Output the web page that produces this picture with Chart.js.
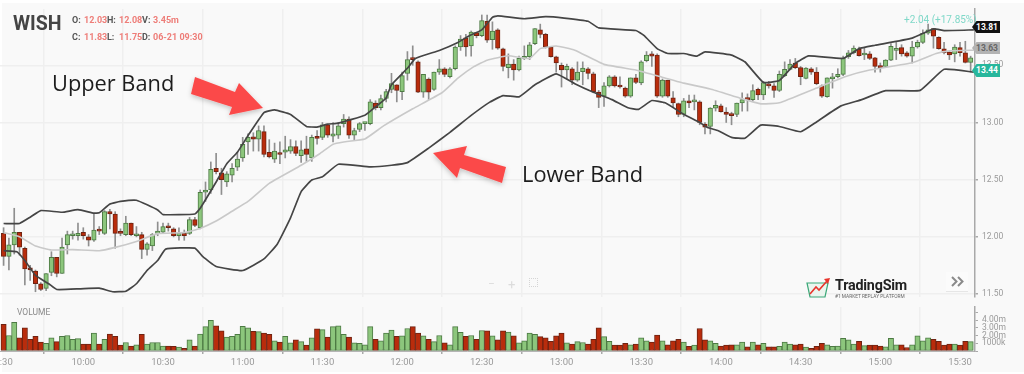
<!DOCTYPE html>
<html>
<head>
<meta charset="utf-8">
<script src="https://cdn.jsdelivr.net/npm/chart.js@4/dist/chart.umd.js"></script>
<style>
html,body{margin:0;padding:0;background:#fff;overflow:hidden}
#stage{position:relative;width:1024px;height:374px;overflow:hidden;background:#fff;font-family:Roboto,sans-serif}
#panel{position:absolute;left:2px;top:3px;width:1022px;height:369px;background:#f9f9f9}
.soft{position:absolute;left:0;top:0;width:1024px;height:374px;filter:blur(.6px)}
canvas{position:absolute}
.t{position:absolute;white-space:nowrap;line-height:1}
.k{color:#555;font:bold 9px Roboto,sans-serif}
.v{color:#ee7d78;font:bold 9px Roboto,sans-serif}
.tag{position:absolute;left:972px;width:28px;height:12px;font:bold 8.5px/12px Roboto,sans-serif;text-align:center;padding-left:2px;box-sizing:border-box;clip-path:polygon(0 50%,16% 0,100% 0,100% 100%,16% 100%)}
.band{position:absolute;font:21.8px "Open Sans",sans-serif;color:#1c1c1c;line-height:1;white-space:nowrap}
svg{position:absolute;left:0;top:0}
</style>
</head>
<body>
<div id="stage">
  <div id="panel"></div>
  <div class="soft">
    <canvas id="price" style="left:-40px;top:0;width:1064px;height:312px"></canvas>
    <canvas id="volume" style="left:-40px;top:298px;width:1064px;height:76px"></canvas>
    <div class="t" style="left:13px;top:12px;font:bold 19.5px Roboto,sans-serif;color:#444">WISH</div>
    <div class="t k" style="left:72px;top:15px">O:</div><div class="t v" style="left:84px;top:15px">12.03</div>
    <div class="t k" style="left:107px;top:15px">H:</div><div class="t v" style="left:119px;top:15px">12.08</div>
    <div class="t k" style="left:142px;top:15px">V:</div><div class="t v" style="left:153px;top:15px">3.45m</div>
    <div class="t k" style="left:72px;top:32px">C:</div><div class="t v" style="left:84px;top:32px">11.83</div>
    <div class="t k" style="left:107px;top:32px">L:</div><div class="t v" style="left:119px;top:32px">11.75</div>
    <div class="t k" style="left:142px;top:32px">D:</div><div class="t v" style="left:153px;top:32px">06-21 09:30</div>
    <div class="t" style="left:904px;top:14px;font:10px Roboto,sans-serif;color:#7fd8c8">+2.04 (+17.85%)</div>
    <div class="tag" style="top:21px;background:#111;color:#fff">13.81</div>
    <div class="tag" style="top:42px;background:#b3b3b3;color:#666">13.63</div>
    <div class="tag" style="top:64px;height:13px;line-height:13px;background:#27b79c;color:#fff">13.44</div>
    <div class="t" style="left:17px;top:307px;font:8.5px Roboto,sans-serif;color:#8a8a8a">VOLUME</div>
    <div class="t" style="left:488px;top:277px;font:12px Roboto,sans-serif;color:#dcdcdc">−</div>
    <div class="t" style="left:508px;top:277px;font:13px Roboto,sans-serif;color:#dcdcdc">+</div>
    <div class="t" style="left:529px;top:278px;width:7px;height:7px;border:1px dotted #d5d5d5"></div>
    <div style="position:absolute;left:946px;top:272px;width:22px;height:19px;background:#fbfbfb;border-bottom:1px solid #e6e6e6"></div>
    <svg width="1024" height="374" viewBox="0 0 1024 374">
      <path d="M807 283h21l-3 14h-15z" fill="#eaf5ee" stroke="#3aa878" stroke-width="1.2"/>
      <path d="M810 294l6-7 3 3 8-9" fill="none" stroke="#e8352c" stroke-width="1.6"/>
      <path d="M824 279l6-1-2 6z" fill="#e8352c"/>
      <path d="M952 277l4.500 4.500-4.500 4.500M958 277l4.500 4.500-4.500 4.500" fill="none" stroke="#8a8a8a" stroke-width="2"/>
    </svg>
    <div class="t" style="left:835px;top:277px;font:bold 14.3px Roboto,sans-serif;color:#222;letter-spacing:-.2px">TradingSim</div>
    <div class="t" style="left:835px;top:294px;font:4.8px Roboto,sans-serif;color:#666">#1 MARKET REPLAY PLATFORM</div>
  </div>
  <svg width="1024" height="374" viewBox="0 0 1024 374">
    <defs><filter id="sh" x="-20%" y="-20%" width="140%" height="150%"><feDropShadow dx="0" dy="2" stdDeviation="2.5" flood-color="#000" flood-opacity=".22"/></filter></defs>
    <polygon points="195,77 235,92 239,83 263,108 229,115 232,107 191,94" fill="#fb4a4a" filter="url(#sh)"/>
    <polygon points="433,153 467,146 464,155 506,167 502,183 460,168 457,178" fill="#fb4a4a" filter="url(#sh)"/>
  </svg>
  <div class="band" style="left:52px;top:72px">Upper Band</div>
  <div class="band" style="left:522px;top:163px">Lower Band</div>
</div>
<script>
const OPEN=[12.03,11.83,11.93,12.04,11.90,11.73,11.70,11.59,11.55,11.69,
11.82,11.68,11.93,12.01,12.01,12.04,12.00,11.97,12.06,12.03,
12.22,12.20,12.04,12.02,12.12,12.01,12.02,11.89,11.92,12.03,
12.04,12.09,12.07,12.01,12.03,12.03,12.15,12.08,12.39,12.41,
12.60,12.56,12.48,12.54,12.61,12.69,12.83,12.875,12.855,12.92,
12.74,12.68,12.735,12.74,12.75,12.79,12.71,12.77,12.69,12.88,
12.87,12.98,12.88,12.89,12.99,13.03,12.89,12.94,12.99,12.99,
13.17,13.13,13.21,13.29,13.33,13.27,13.43,13.56,13.53,13.265,
13.38,13.29,13.44,13.47,13.40,13.47,13.66,13.74,13.67,13.785,
13.76,13.885,13.725,13.81,13.645,13.48,13.51,13.46,13.56,13.575,
13.69,13.81,13.77,13.66,13.575,13.50,13.46,13.47,13.37,13.445,
13.47,13.425,13.265,13.23,13.32,13.40,13.32,13.30,13.23,13.39,
13.345,13.54,13.60,13.59,13.23,13.37,13.215,13.165,13.07,13.19,
13.18,13.18,12.985,12.965,13.125,13.145,13.09,13.075,13.07,13.17,
13.21,13.20,13.29,13.24,13.335,13.32,13.28,13.41,13.465,13.52,
13.48,13.385,13.47,13.44,13.32,13.225,13.38,13.40,13.42,13.575,
13.61,13.64,13.59,13.60,13.565,13.49,13.49,13.545,13.63,13.655,
13.61,13.58,13.66,13.70,13.78,13.82,13.745,13.645,13.615,13.60,
13.655,13.61,13.525];
const CLOSE=[11.83,11.93,12.04,11.91,11.72,11.71,11.59,11.54,11.68,11.82,
11.68,11.91,12.02,12.02,12.03,12.01,11.97,12.06,12.05,12.22,
12.20,12.03,12.03,12.12,12.02,12.02,11.89,11.94,12.02,12.05,
12.09,12.08,12.01,12.03,12.01,12.15,12.10,12.39,12.41,12.59,
12.57,12.50,12.55,12.60,12.68,12.81,12.87,12.855,12.93,12.72,
12.70,12.75,12.72,12.76,12.79,12.73,12.76,12.72,12.87,12.86,
12.98,12.89,12.90,12.97,13.03,12.89,12.93,12.99,13.00,13.18,
13.13,13.21,13.27,13.34,13.28,13.41,13.55,13.55,13.265,13.42,
13.265,13.44,13.47,13.42,13.47,13.66,13.73,13.66,13.79,13.76,
13.89,13.72,13.80,13.65,13.49,13.51,13.46,13.56,13.57,13.68,
13.82,13.77,13.66,13.575,13.52,13.46,13.49,13.37,13.44,13.475,
13.43,13.27,13.22,13.32,13.40,13.32,13.31,13.23,13.39,13.35,
13.53,13.59,13.58,13.23,13.37,13.23,13.17,13.07,13.19,13.17,
13.19,13.00,12.96,13.125,13.15,13.095,13.07,13.06,13.17,13.20,
13.20,13.28,13.24,13.35,13.32,13.28,13.42,13.465,13.51,13.48,
13.40,13.475,13.44,13.34,13.23,13.39,13.40,13.42,13.565,13.61,
13.65,13.585,13.605,13.56,13.49,13.48,13.545,13.665,13.64,13.60,
13.58,13.66,13.70,13.78,13.81,13.755,13.645,13.61,13.59,13.66,
13.61,13.525,13.565];
const HIGH=[12.08,11.99,12.25,12.04,11.91,11.75,11.71,11.60,11.68,11.87,
11.82,11.99,12.05,12.05,12.12,12.08,12.02,12.20,12.09,12.23,
12.24,12.22,12.07,12.18,12.12,12.09,12.04,11.95,12.03,12.13,
12.12,12.12,12.08,12.08,12.06,12.17,12.17,12.41,12.48,12.655,
12.73,12.60,12.57,12.64,12.74,12.87,12.90,12.91,12.97,12.97,
12.85,12.82,12.83,12.88,12.85,12.84,12.84,12.88,12.89,12.93,
13.00,12.98,13.00,13.00,13.07,13.05,12.95,13.00,13.00,13.20,
13.19,13.24,13.29,13.43,13.33,13.44,13.62,13.67,13.54,13.42,
13.39,13.44,13.55,13.48,13.48,13.67,13.76,13.77,13.80,13.79,
13.94,13.94,13.88,13.82,13.65,13.60,13.55,13.58,13.67,13.70,
13.82,13.86,13.78,13.66,13.58,13.52,13.51,13.48,13.53,13.53,
13.48,13.44,13.28,13.35,13.41,13.41,13.40,13.31,13.39,13.42,
13.54,13.62,13.62,13.60,13.38,13.37,13.27,13.17,13.21,13.24,
13.24,13.19,13.00,13.13,13.19,13.16,13.13,13.09,13.17,13.26,
13.25,13.33,13.30,13.36,13.36,13.34,13.45,13.53,13.55,13.56,
13.49,13.48,13.48,13.48,13.33,13.39,13.43,13.47,13.58,13.63,
13.67,13.66,13.65,13.62,13.57,13.52,13.55,13.69,13.70,13.68,
13.62,13.71,13.72,13.81,13.86,13.82,13.75,13.70,13.62,13.68,
13.70,13.71,13.58];
const LOW=[11.75,11.71,11.85,11.84,11.58,11.62,11.52,11.53,11.53,11.66,
11.65,11.68,11.85,11.98,11.97,11.98,11.92,11.96,12.02,12.02,
12.07,11.90,12.01,12.01,12.01,12.00,11.81,11.84,11.88,12.01,
12.03,12.05,12.00,11.97,11.97,12.02,12.09,12.07,12.31,12.38,
12.55,12.37,12.44,12.48,12.58,12.66,12.72,12.75,12.75,12.70,
12.69,12.65,12.64,12.69,12.73,12.71,12.65,12.66,12.66,12.81,
12.85,12.87,12.83,12.86,12.96,12.86,12.85,12.92,12.93,12.98,
13.11,13.11,13.18,13.26,13.18,13.20,13.37,13.50,13.26,13.22,
13.20,13.28,13.42,13.40,13.39,13.46,13.63,13.58,13.58,13.74,
13.75,13.70,13.64,13.64,13.45,13.39,13.37,13.45,13.55,13.55,
13.68,13.74,13.65,13.57,13.44,13.31,13.38,13.33,13.36,13.33,
13.38,13.26,13.13,13.14,13.31,13.31,13.30,13.22,13.22,13.34,
13.33,13.53,13.49,13.22,13.22,13.22,13.13,13.05,13.05,13.13,
13.11,12.98,12.90,12.90,13.10,13.09,13.00,12.98,13.05,13.10,
13.10,13.19,13.20,13.20,13.30,13.22,13.27,13.40,13.46,13.47,
13.33,13.38,13.42,13.33,13.22,13.22,13.30,13.39,13.41,13.56,
13.60,13.58,13.55,13.55,13.44,13.44,13.48,13.54,13.55,13.58,
13.57,13.52,13.65,13.69,13.77,13.65,13.64,13.60,13.55,13.53,
13.58,13.52,13.44];
const VOLUME_M=[3.45,2.0,3.7,1.7,3.0,1.5,1.9,1.15,1.0,1.7,
1.2,1.9,2.0,1.5,1.6,.9,.9,2.3,.9,1.5,
2.2,1.9,.75,1.1,.65,.8,2.15,.9,1.1,1.1,
.65,.65,.6,.5,.35,1.45,.65,2.2,3.15,3.95,
3.25,2.6,1.8,1.9,2.15,3.2,3.0,2.55,2.5,2.3,
2.15,1.3,1.15,1.9,1.05,1.45,1.2,.75,1.7,2.85,
2.75,1.8,3.15,3.25,2.15,1.8,1.05,1.0,.8,3.15,
1.5,1.3,2.3,2.7,1.9,1.95,2.9,3.15,2.3,1.95,
1.5,1.2,2.0,1.05,.8,3.15,2.4,1.9,2.0,1.5,
2.65,2.6,1.95,1.45,2.6,2.45,1.95,1.05,1.3,2.3,
2.15,1.85,1.7,1.25,1.95,2.3,1.05,.9,1.2,1.1,
.9,1.5,3.0,1.85,1.25,.75,.75,1.0,.8,.9,
1.7,1.3,1.15,2.05,1.3,.8,1.3,1.5,1.15,.6,
.75,2.9,1.45,1.3,1.0,.65,.75,.8,.8,1.15,
.55,1.15,.8,1.0,.55,.55,.6,1.15,.9,.8,
.9,.5,.35,.6,1.0,.8,.6,.65,1.65,1.45,
.9,1.25,.7,.75,.75,.65,.55,1.65,.8,.8,
.45,.8,1.95,1.3,1.7,1.5,1.25,.75,.9,.9,
.75,1.25,1.2];
const UPPER_AT=[0,3,5,7,11,14,17,18,20,22,25,29,30,36,37,40,42,44,46,49,51,54,57,59,61,63,68,70,72,73,76,77.5,82,85.5,87.5,90,92,93,98,102,105.5,110,112,119,120.5,123,125,128,130.5,132,137,139.5,143,146,149,151.5,158,161,164,171,175,177,182.6];
const UPPER=[12.117,12.117,12.172,12.23,12.215,12.238,12.207,12.21,12.287,12.31,12.32,12.235,12.195,12.20,12.25,12.48,12.64,12.74,12.885,13.086,13.11,13.07,12.965,12.96,12.985,12.994,13.063,13.137,13.215,13.33,13.474,13.56,13.63,13.70,13.755,13.81,13.92,13.933,13.907,13.925,13.913,13.885,13.827,13.804,13.761,13.646,13.603,13.603,13.58,13.617,13.589,13.531,13.35,13.367,13.517,13.583,13.56,13.646,13.675,13.738,13.818,13.804,13.81];
const MIDDLE_AT=[0,3,6,9,13,18,21,25,29,34,37,40,43,46,50,56,59.5,62,64,68,71.5,77,82.5,85.5,88.5,91,95,99,101,104,107.5,113,119,123,128,133,138.5,142.5,146,153,158.5,163,171,175.5,178,182.6];
const MIDDLE=[12.037,12.0,11.92,11.885,11.888,11.879,11.908,11.96,12.028,12.037,12.074,12.138,12.224,12.31,12.468,12.626,12.727,12.81,12.83,12.856,12.97,13.12,13.26,13.387,13.488,13.545,13.583,13.56,13.646,13.669,13.632,13.508,13.459,13.408,13.344,13.293,13.215,13.163,13.172,13.301,13.402,13.459,13.522,13.603,13.626,13.632];
const LOWER_AT=[0,2.5,4,6,8.5,10,14.5,18,20.5,23,25,27,29,30.5,36,37.5,40,45,49,51.5,54,56,58,60,63,69,73,76,80,84,88,91.5,94,97,100,104,107.5,111,114.5,117.5,119.5,122,124.5,128,131,132.5,134.5,137,139.5,142.5,146,150,153,157.5,161.5,166,172.5,177,182.6];
const LOWER=[11.879,11.87,11.793,11.663,11.59,11.54,11.546,11.551,11.52,11.525,11.59,11.706,11.793,11.893,11.902,11.827,11.741,11.706,11.807,11.936,12.166,12.396,12.497,12.525,12.635,12.612,12.626,12.649,12.776,12.914,13.062,13.178,13.235,13.224,13.33,13.425,13.339,13.264,13.2,13.129,13.115,13.192,13.172,13.072,13.0,12.956,12.928,12.87,12.862,12.977,12.965,12.919,13.005,13.143,13.2,13.278,13.281,13.465,13.44];
const PRICE_TICK_STEP=.5;
const VOLUME_TICK_STEP=1;
const BAR_MINUTES=2;

const up=i=>CLOSE[i]>=OPEN[i];
const GREEN='#8cc67c',GREEN_EDGE='#4d7a44',RED='#b92c0c',RED_EDGE='#6e2312';
const GRID='#efefef',AXIS='#a9a9a9',TICKTXT='#9a9a9a';
const xMin=-16.41,xMax=365.64;
const pts=(at,v)=>at.map((a,i)=>({x:a*BAR_MINUTES,y:v[i]}));
const clock=m=>{const t=570+m;return Math.floor(t/60)+':'+String(t%60).padStart(2,'0')};
const fixW=s=>{s.width=49};
const bandLine=(data,color,w,label)=>({type:'line',label,data,borderColor:color,borderWidth:w,pointRadius:0,tension:.12,order:0});

new Chart(document.getElementById('price'),{
  type:'bar',
  data:{datasets:[
    bandLine(pts(UPPER_AT,UPPER),'#454545',1.7,'Upper Band'),
    bandLine(pts(LOWER_AT,LOWER),'#454545',1.7,'Lower Band'),
    bandLine(pts(MIDDLE_AT,MIDDLE),'#c9c9c9',1.6,'Middle Band'),
    {label:'Body',data:OPEN.map((o,i)=>({x:i*BAR_MINUTES,y:[o,CLOSE[i]]})),grouped:false,barThickness:4.5,minBarLength:2,order:1,
     backgroundColor:OPEN.map((_,i)=>up(i)?GREEN:RED),borderColor:OPEN.map((_,i)=>up(i)?GREEN_EDGE:RED_EDGE),borderWidth:1,borderSkipped:false},
    {label:'Wick',data:HIGH.map((h,i)=>({x:i*BAR_MINUTES,y:[LOW[i],h]})),grouped:false,barThickness:1,order:2,backgroundColor:'#8f8f8f',borderWidth:0}
  ]},
  options:{
    responsive:false,animation:false,devicePixelRatio:1,
    layout:{padding:{top:5,bottom:15,left:0,right:0}},
    plugins:{legend:{display:false},tooltip:{enabled:false}},
    scales:{
      x:{type:'linear',offset:false,min:xMin,max:xMax,grid:{color:GRID,lineWidth:1.5,drawTicks:false},border:{display:false},
         ticks:{display:false,stepSize:30,includeBounds:false}},
      y:{position:'right',min:13-(297-120)/116,max:13+(120-5)/116,afterFit:fixW,
         grid:{color:GRID,lineWidth:1.5,tickColor:AXIS,tickLength:3},border:{color:AXIS,width:1.5},
         ticks:{stepSize:PRICE_TICK_STEP,includeBounds:false,padding:4,color:TICKTXT,font:{family:'Roboto',size:8.5},callback:v=>v.toFixed(2)}}
    }
  }
});

new Chart(document.getElementById('volume'),{
  type:'bar',
  data:{datasets:[{label:'Volume',data:VOLUME_M.map((v,i)=>({x:i*BAR_MINUTES,y:v})),barThickness:5.3,
    backgroundColor:VOLUME_M.map((_,i)=>up(i)?GREEN:RED),borderColor:VOLUME_M.map((_,i)=>up(i)?GREEN_EDGE:RED_EDGE),borderWidth:1,borderSkipped:false}]},
  options:{
    responsive:false,animation:false,devicePixelRatio:1,
    layout:{padding:{top:2,bottom:0,left:0,right:0}},
    plugins:{legend:{display:false},tooltip:{enabled:false}},
    scales:{
      x:{type:'linear',offset:false,min:xMin,max:xMax,afterFit:s=>{s.height=23},
         grid:{color:GRID,lineWidth:1.5,tickColor:AXIS,tickLength:3},border:{color:'#b5b5b5'},
         ticks:{stepSize:30,includeBounds:false,maxRotation:0,autoSkip:false,padding:3,color:TICKTXT,font:{family:'Roboto',size:9.5},callback:clock}},
      y:{position:'right',min:0,max:51/9,afterFit:fixW,
         grid:{display:true,drawOnChartArea:false,tickColor:AXIS,tickLength:3},border:{color:AXIS,width:1.5},
         ticks:{stepSize:VOLUME_TICK_STEP,includeBounds:false,autoSkip:false,padding:4,color:TICKTXT,font:{family:'Roboto',size:8.5},
                callback:v=>v>=2&&v<=4?v.toFixed(2)+'m':(v===1?'1000k':'')}}
    }
  }
});
</script>
</body>
</html>
